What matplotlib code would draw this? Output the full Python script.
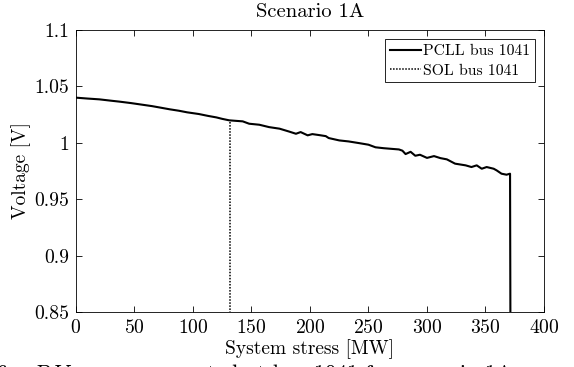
import matplotlib.pyplot as plt

plt.rcParams['font.family'] = 'cmr10'
plt.rcParams['mathtext.fontset'] = 'cm'
plt.rcParams['axes.formatter.use_mathtext'] = True

# Curva P-V en la barra 1041
stress_mw = [0, 10, 20, 30, 37, 47, 55, 65, 72, 80, 88, 95, 105, 113, 120, 125, 131,
             136, 142.5, 148, 156.7, 165, 174, 182, 188, 192, 198, 202, 208, 213.5,
             216, 225, 233, 242, 250, 256, 263, 270, 276, 279, 281.7, 286, 290, 294,
             300, 306, 311.5, 317, 324, 333, 338, 342.5, 346.8, 351, 357, 359.6,
             363.7, 368, 371, 371.4]
voltage = [1.040, 1.0392, 1.0385, 1.0373, 1.0365, 1.0352, 1.0340, 1.0325, 1.0312,
           1.0297, 1.0284, 1.0270, 1.0255, 1.0238, 1.0225, 1.0212, 1.0199, 1.0195,
           1.0190, 1.0169, 1.0160, 1.0139, 1.0125, 1.0100, 1.0080, 1.0095, 1.0066,
           1.0077, 1.0068, 1.0059, 1.0042, 1.0021, 1.0012, 0.9997, 0.9983, 0.9960,
           0.9952, 0.9946, 0.9941, 0.9930, 0.9900, 0.9920, 0.9885, 0.9894, 0.9866,
           0.9882, 0.9864, 0.9853, 0.9815, 0.9800, 0.9785, 0.9800, 0.9770, 0.9785,
           0.9770, 0.9755, 0.9726, 0.9717, 0.9726, 0.80]

sol_mw = [132, 132]
sol_v = [0.80, 1.0196]

fig = plt.figure(figsize=(5.74, 3.67), dpi=100)
ax = fig.add_axes([0.1324, 0.1499, 0.8153, 0.7684])

ax.plot(stress_mw, voltage, color='black', linewidth=1.5, label='PCLL bus 1041')
ax.plot(sol_mw, sol_v, color='black', linewidth=1.1, linestyle=(0, (1, 1)),
        label='SOL bus 1041')

ax.set_xlim(0, 400)
ax.set_ylim(0.85, 1.1)
ax.set_xticks(range(0, 401, 50))
ax.set_yticks([0.85, 0.9, 0.95, 1.0, 1.05, 1.1])
ax.set_yticklabels(['0.85', '0.9', '0.95', '1', '1.05', '1.1'])
ax.tick_params(direction='in', top=True, right=True, length=4, width=0.6,
               labelsize=14.2, pad=5)
for s in ax.spines.values():
    s.set_linewidth(0.6)

ax.set_title('Scenario 1A', fontsize=14.8, pad=9)
ax.set_xlabel('System stress [MW]', fontsize=14, labelpad=2)
ax.set_ylabel('Voltage [V]', fontsize=14, labelpad=2)

leg = ax.legend(loc='upper right', fontsize=11.3, handlelength=2.0,
                handletextpad=0.1, borderpad=0.3, labelspacing=0.35,
                borderaxespad=0.6, fancybox=False, edgecolor='black',
                framealpha=1)
leg.get_frame().set_linewidth(0.6)

# pie de figura recortado abajo
fig.text(14 / 574, -0.036, 'Fig. 6.', fontsize=16, ha='right', va='baseline')
fig.text(32 / 574, -0.036, '$P$-$V$ curves computed at bus 1041 for scenario 1A.',
         fontsize=16, ha='left', va='baseline')

fig.savefig('out.png', dpi=100)
